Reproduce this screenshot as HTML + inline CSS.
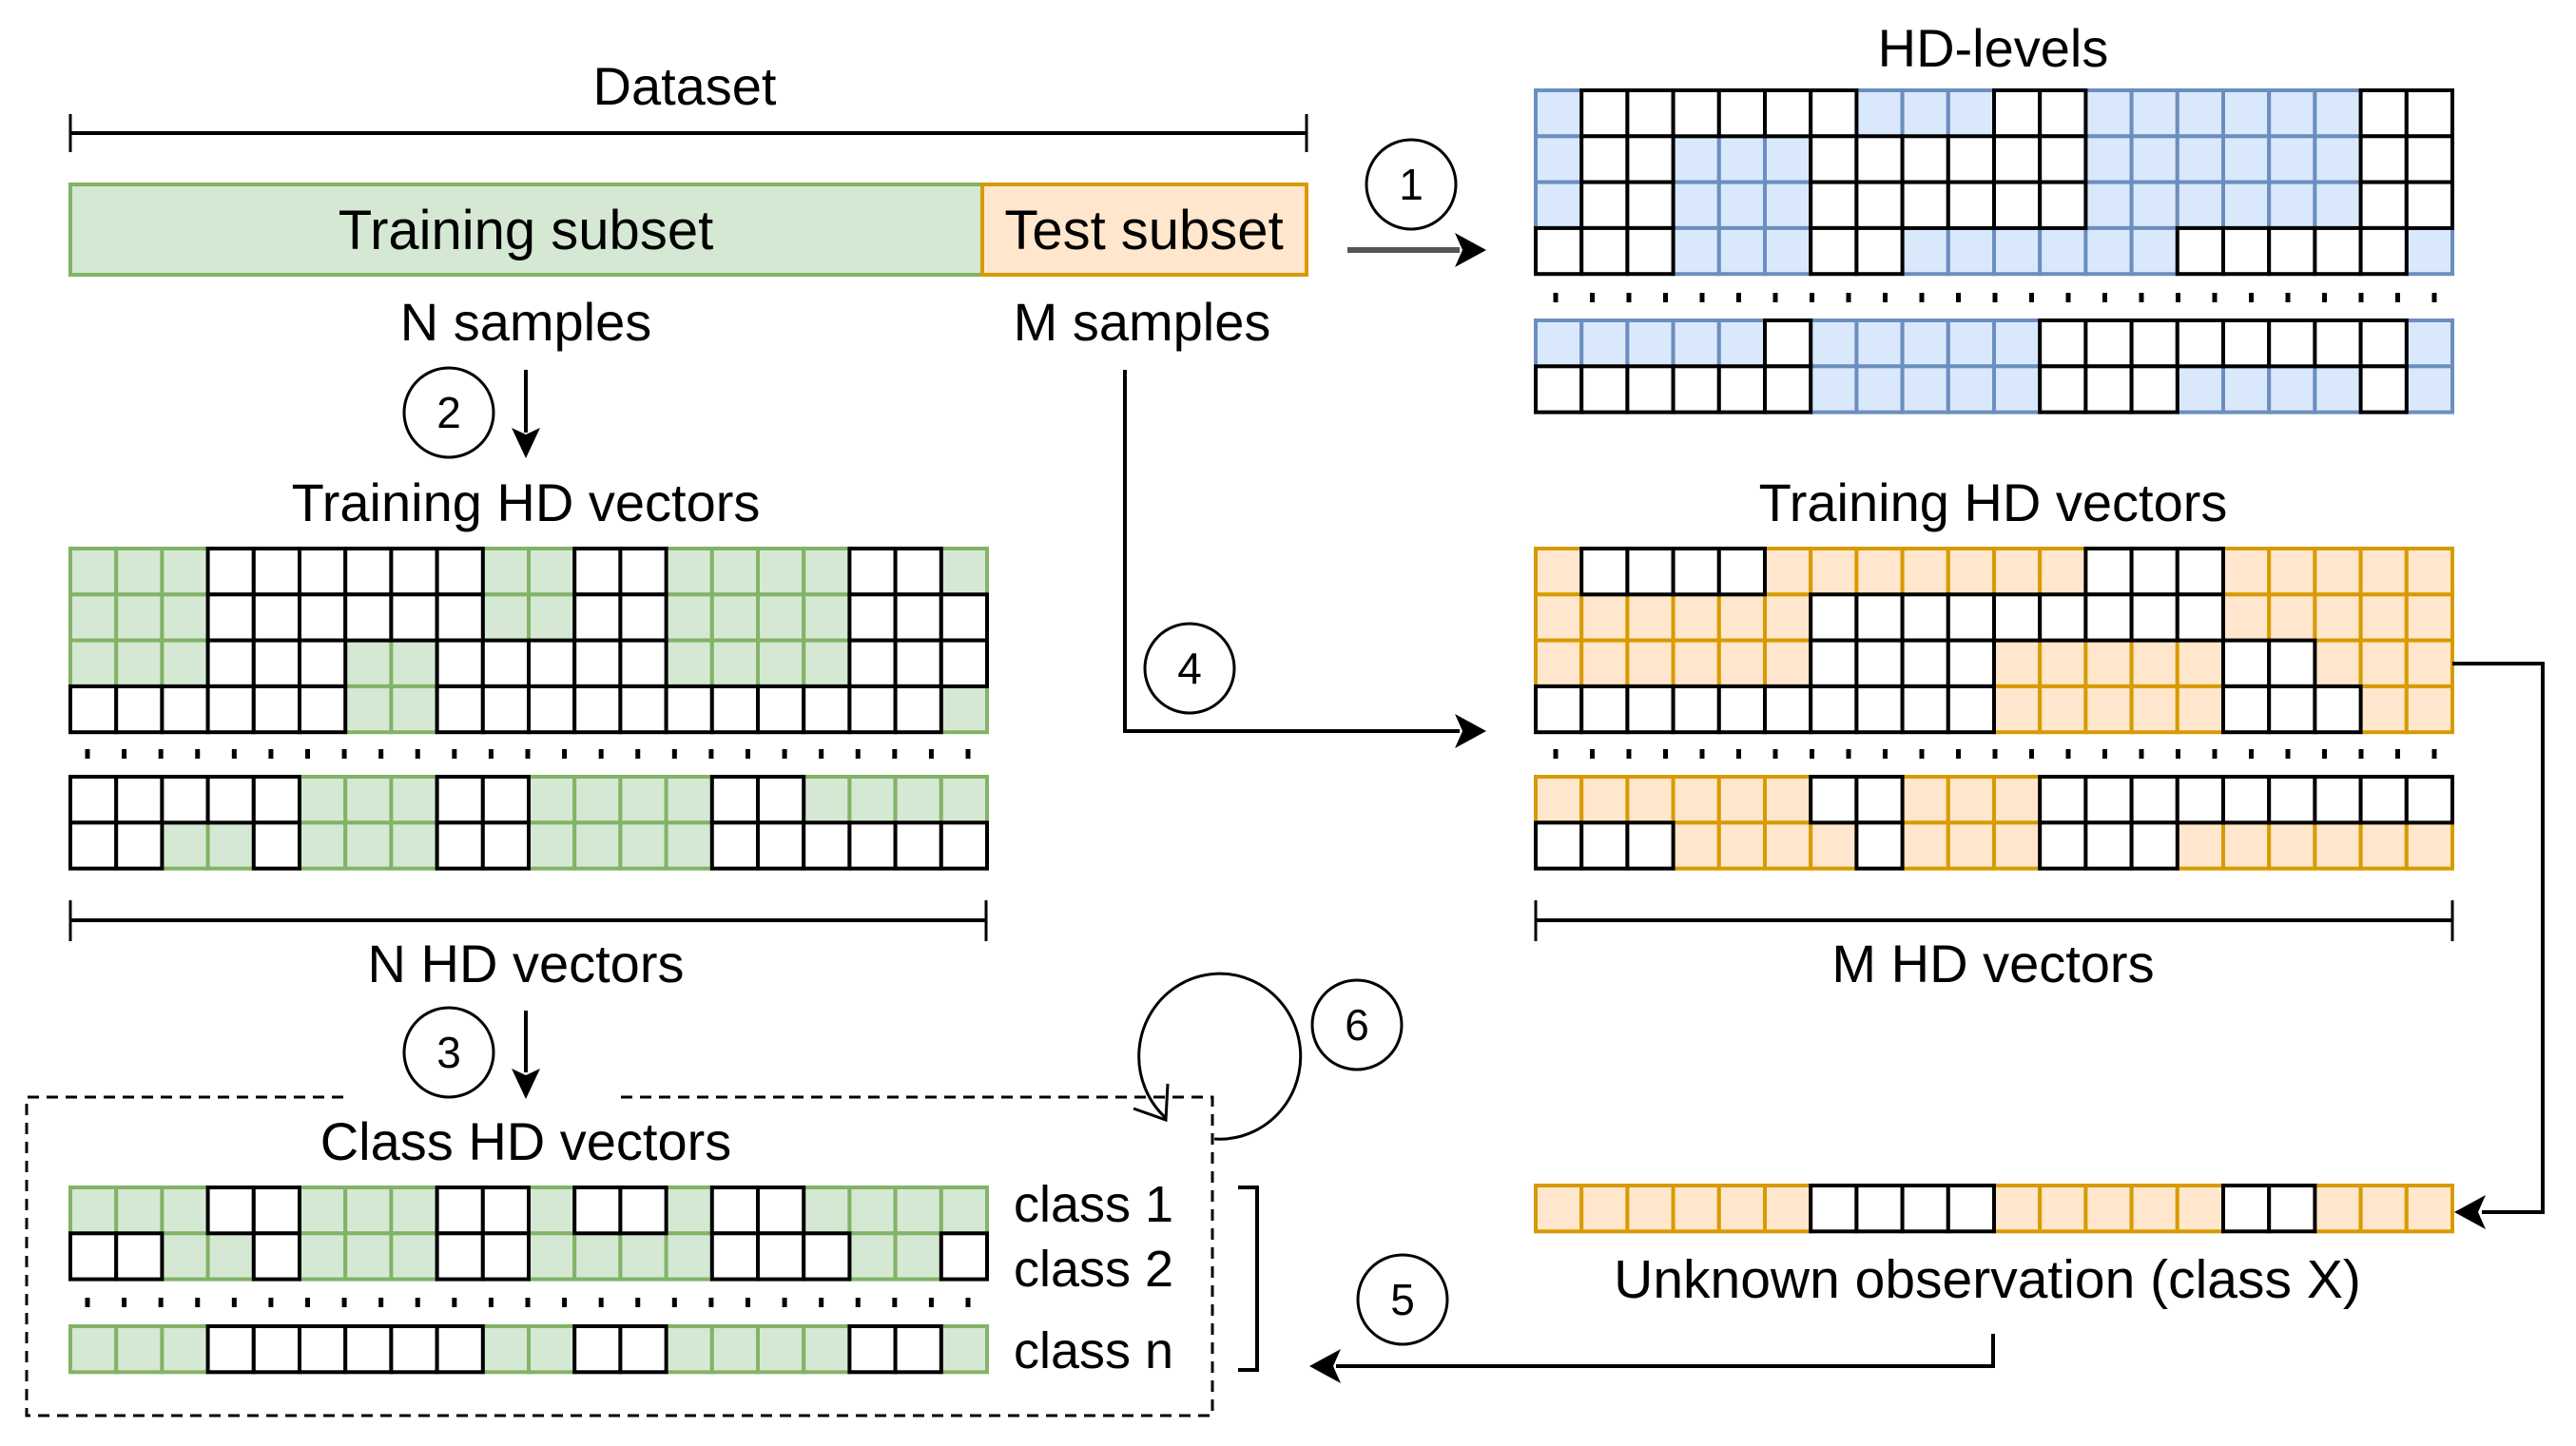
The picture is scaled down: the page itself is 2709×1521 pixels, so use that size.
<!DOCTYPE html>
<html><head><meta charset="utf-8"><style>
html,body{margin:0;padding:0;background:#fff;}
svg{display:block;}
text{font-family:"Liberation Sans",sans-serif;fill:#000;}
</style></head><body>
<svg id="s" width="2709" height="1521" viewBox="0 0 2709 1521" xmlns="http://www.w3.org/2000/svg">
<g id="cells"></g>

<!-- Dataset -->
<text x="720" y="110" font-size="56" text-anchor="middle">Dataset</text>
<line x1="74" y1="140" x2="1374" y2="140" stroke="#000" stroke-width="4"/>
<line x1="74" y1="120" x2="74" y2="160" stroke="#000" stroke-width="3"/>
<line x1="1374" y1="120" x2="1374" y2="160" stroke="#000" stroke-width="3"/>
<rect x="74" y="194" width="959" height="95" fill="#d5e8d4" stroke="#82b366" stroke-width="4"/>
<rect x="1033" y="194" width="341" height="95" fill="#ffe6cc" stroke="#d79b00" stroke-width="4"/>
<text x="553" y="262" font-size="58" text-anchor="middle">Training subset</text>
<text x="1203" y="262" font-size="58" text-anchor="middle">Test subset</text>
<text x="553" y="358" font-size="56" text-anchor="middle">N samples</text>
<text x="1201" y="358" font-size="56" text-anchor="middle">M samples</text>

<!-- circles -->
<g fill="none" stroke="#000" stroke-width="3">
<circle cx="1484" cy="194" r="47"/>
<circle cx="472" cy="434" r="47"/>
<circle cx="472" cy="1107" r="47"/>
<circle cx="1251" cy="703" r="47"/>
<circle cx="1475" cy="1367" r="47"/>
<circle cx="1427" cy="1078" r="47"/>
</g>
<g font-size="46" text-anchor="middle">
<text x="1484" y="210">1</text>
<text x="472" y="450">2</text>
<text x="472" y="1123">3</text>
<text x="1251" y="719">4</text>
<text x="1475" y="1383">5</text>
<text x="1427" y="1094">6</text>
</g>

<!-- arrows -->
<line x1="1417" y1="263" x2="1535" y2="263" stroke="#555" stroke-width="6"/>
<polygon points="1563,263 1530,245 1538,263 1530,281" fill="#000"/>
<line x1="553" y1="389" x2="553" y2="455" stroke="#000" stroke-width="4"/>
<polygon points="553,482 538,450 553,457 568,450" fill="#000"/>
<line x1="553" y1="1063" x2="553" y2="1128" stroke="#000" stroke-width="4"/>
<polygon points="553,1156 538,1124 553,1131 568,1124" fill="#000"/>
<polyline points="1183,389 1183,769 1535,769" fill="none" stroke="#000" stroke-width="4"/>
<polygon points="1563,769 1530,751 1538,769 1530,787" fill="#000"/>
<polyline points="2579,698 2674,698 2674,1275 2610,1275" fill="none" stroke="#000" stroke-width="4"/>
<polygon points="2581,1275 2614,1257 2606,1275 2614,1293" fill="#000"/>
<polyline points="2096,1403 2096,1437 1405,1437" fill="none" stroke="#000" stroke-width="4"/>
<polygon points="1377,1437 1410,1419 1402,1437 1410,1455" fill="#000"/>
<!-- loop 6 -->
<path d="M1277,1198 A85 87 0 1 0 1226,1176" fill="none" stroke="#000" stroke-width="3"/>
<polyline points="1228,1140 1226,1178 1192,1166" fill="none" stroke="#000" stroke-width="3"/>

<!-- labels -->
<text x="2096" y="70" font-size="56" text-anchor="middle">HD-levels</text>
<text x="553" y="548" font-size="56" text-anchor="middle">Training HD vectors</text>
<text x="2096" y="548" font-size="56" text-anchor="middle">Training HD vectors</text>

<!-- brackets -->
<line x1="74" y1="968" x2="1037" y2="968" stroke="#000" stroke-width="4"/>
<line x1="74" y1="947" x2="74" y2="990" stroke="#000" stroke-width="3"/>
<line x1="1037" y1="947" x2="1037" y2="990" stroke="#000" stroke-width="3"/>
<text x="553" y="1033" font-size="56" text-anchor="middle">N HD vectors</text>
<line x1="1615" y1="968" x2="2579" y2="968" stroke="#000" stroke-width="4"/>
<line x1="1615" y1="947" x2="1615" y2="990" stroke="#000" stroke-width="3"/>
<line x1="2579" y1="947" x2="2579" y2="990" stroke="#000" stroke-width="3"/>
<text x="2096" y="1033" font-size="56" text-anchor="middle">M HD vectors</text>

<!-- dashed box -->
<polyline points="361,1154 28,1154 28,1489 1275,1489 1275,1154 648,1154" fill="none" stroke="#000" stroke-width="3" stroke-dasharray="12,8"/>
<text x="553" y="1220" font-size="56" text-anchor="middle">Class HD vectors</text>
<text x="1066" y="1285" font-size="54">class 1</text>
<text x="1066" y="1353" font-size="54">class 2</text>
<text x="1066" y="1439" font-size="54">class n</text>
<polyline points="1302,1249 1322,1249 1322,1441 1302,1441" fill="none" stroke="#000" stroke-width="4"/>

<text x="2090" y="1365" font-size="57" text-anchor="middle">Unknown observation (class X)</text>
<g id="dots"></g>
</svg>
<script>
var NS="http://www.w3.org/2000/svg";
var g=document.getElementById('cells');
var C={G:['#d5e8d4','#82b366'],B:['#dae8fc','#6c8ebf'],O:['#ffe6cc','#d79b00']};
function grid(x0,y0,rows,cw,ch){
  var whites=[];
  rows.forEach(function(r,ri){
    r.replace(/ /g,'').split('').forEach(function(c,ci){
      var x=x0+ci*cw,y=y0+ri*ch;
      if(c==='W'){whites.push([x,y]);return;}
      var e=document.createElementNS(NS,'rect');
      e.setAttribute('x',x);e.setAttribute('y',y);e.setAttribute('width',cw);e.setAttribute('height',ch);
      e.setAttribute('fill',C[c][0]);e.setAttribute('stroke',C[c][1]);e.setAttribute('stroke-width',4);
      g.appendChild(e);
    });
  });
  whites.forEach(function(p){
    var e=document.createElementNS(NS,'rect');
    e.setAttribute('x',p[0]);e.setAttribute('y',p[1]);e.setAttribute('width',cw);e.setAttribute('height',ch);
    e.setAttribute('fill','#fff');e.setAttribute('stroke','#000');e.setAttribute('stroke-width',4);
    g.appendChild(e);
  });
}
var cw=48.2,ch=48.3;
grid(1615,95,["BWWWWWWBBBWWBBBBBBWW","BWWBBBWWWWWWBBBBBBWW","BWWBBBWWWWWWBBBBBBWW","WWWBBBWWBBBBBBWWWWWB"],cw,ch);
grid(1615,337,["BBBBBWBBBBBWWWWWWWWB","WWWWWWBBBBBWWWBBBBWB"],cw,ch);
grid(74,577,["GGGWWWWWWGGWWGGGGWWG","GGGWWWWWWGGWWGGGGWWW","GGGWWWGGWWWWWGGGGWWW","WWWWWWGGWWWWWWWWWWWG"],cw,ch);
grid(74,817,["WWWWWGGGWWGGGGWWGGGG","WWGGWGGGWWGGGGWWWWWW"],cw,ch);
grid(1615,577,["OWWWWOOOOOOOWWWOOOOO","OOOOOOWWWWWWWWWOOOOO","OOOOOOWWWWOOOOOWWOOO","WWWWWWWWWWOOOOOWWWOO"],cw,ch);
grid(1615,817,["OOOOOOWWOOOWWWWWWWWW","WWWOOOOWOOOWWWOOOOOO"],cw,ch);
grid(74,1249,["GGGWWGGGWWGWWGWWGGGG","WWGGWGGGWWGGGGWWWGGW"],cw,ch);
grid(74,1395,["GGGWWWWWWGGWWGGGGWWG"],cw,ch);
grid(1615,1247,["OOOOOOWWWWOOOOOWWOOO"],cw,ch);
var d=document.getElementById('dots');
function dots(x0,x1,y){for(var i=0;i<25;i++){var e=document.createElementNS(NS,'rect');var x=x0+(x1-x0)*i/24;e.setAttribute('x',x-2.5);e.setAttribute('y',y-5);e.setAttribute('width',5);e.setAttribute('height',10);e.setAttribute('fill','#000');d.appendChild(e);}}
dots(1636,2560,313);dots(92,1018,793);dots(1636,2560,793);dots(92,1018,1370);
</script>
</body></html>
